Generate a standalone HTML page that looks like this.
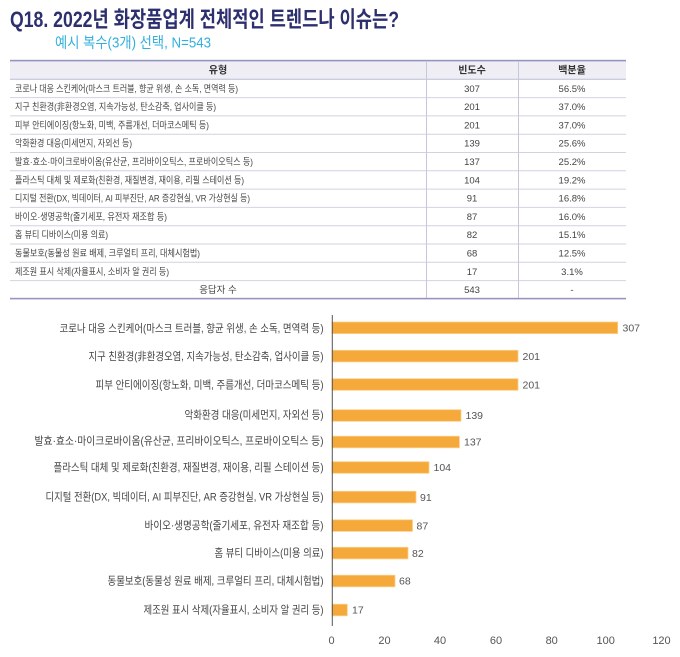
<!DOCTYPE html>
<html><head><meta charset="utf-8">
<style>
html,body{margin:0;padding:0;background:#fff;}
svg{display:block;}
text{font-family:"Liberation Sans","Noto Sans CJK KR",sans-serif;}
</style></head>
<body>
<svg width="680" height="657" viewBox="0 0 680 657" xmlns="http://www.w3.org/2000/svg">
<rect width="680" height="657" fill="#fff"/>
<!-- Title -->
<text x="10" y="27" font-size="22" font-weight="bold" fill="#2d2f6e" textLength="389" lengthAdjust="spacingAndGlyphs">Q18. 2022년 화장품업계 전체적인 트렌드나 이슈는?</text>
<text x="55" y="47.5" font-size="15" fill="#31b0dc" textLength="156" lengthAdjust="spacingAndGlyphs">예시 복수(3개) 선택, N=543</text>

<!-- Table -->
<rect x="10" y="61" width="616" height="18" fill="#eeeef4"/>
<rect x="10" y="59.8" width="616" height="1.6" fill="#9795bd"/>
<g stroke="#d2d2e2" stroke-width="1">
<line x1="10" y1="79.3" x2="626" y2="79.3" stroke="#bcbbd6"/>
<line x1="10" y1="97.6" x2="626" y2="97.6"/>
<line x1="10" y1="115.9" x2="626" y2="115.9"/>
<line x1="10" y1="134.2" x2="626" y2="134.2"/>
<line x1="10" y1="152.5" x2="626" y2="152.5"/>
<line x1="10" y1="170.8" x2="626" y2="170.8"/>
<line x1="10" y1="189.1" x2="626" y2="189.1"/>
<line x1="10" y1="207.4" x2="626" y2="207.4"/>
<line x1="10" y1="225.7" x2="626" y2="225.7"/>
<line x1="10" y1="244" x2="626" y2="244"/>
<line x1="10" y1="262.3" x2="626" y2="262.3"/>
<line x1="10" y1="280.6" x2="626" y2="280.6"/>
<line x1="426.5" y1="61" x2="426.5" y2="298" stroke="#c6c6dc"/>
<line x1="518.5" y1="61" x2="518.5" y2="298" stroke="#c6c6dc"/>
</g>
<rect x="10" y="297.8" width="616" height="1.6" fill="#9795bd"/>

<g font-size="10" fill="#333" text-anchor="middle">
<text x="218" y="73.5" font-weight="bold">유형</text>
<text x="472" y="73.5" font-weight="bold">빈도수</text>
<text x="572" y="73.5" font-weight="bold">백분율</text>
</g>
<g font-size="9.5" fill="#444">
<text x="15" y="91.8" textLength="223" lengthAdjust="spacingAndGlyphs">코로나 대응 스킨케어(마스크 트러블, 향균 위생, 손 소독, 면역력 등)</text>
<text x="15" y="110.1" textLength="201" lengthAdjust="spacingAndGlyphs">지구 친환경(非환경오염, 지속가능성, 탄소감축, 업사이클 등)</text>
<text x="15" y="128.4" textLength="194" lengthAdjust="spacingAndGlyphs">피부 안티에이징(항노화, 미백, 주름개선, 더마코스메틱 등)</text>
<text x="15" y="146.7" textLength="117" lengthAdjust="spacingAndGlyphs">악화환경 대응(미세먼지, 자외선 등)</text>
<text x="15" y="165" textLength="238" lengthAdjust="spacingAndGlyphs">발효·효소·마이크로바이옴(유산균, 프리바이오틱스, 프로바이오틱스 등)</text>
<text x="15" y="183.3" textLength="229" lengthAdjust="spacingAndGlyphs">플라스틱 대체 및 제로화(친환경, 재질변경, 재이용, 리필 스테이션 등)</text>
<text x="15" y="201.6" textLength="235" lengthAdjust="spacingAndGlyphs">디지털 전환(DX, 빅데이터, AI 피부진단, AR 증강현실, VR 가상현실 등)</text>
<text x="15" y="219.9" textLength="152" lengthAdjust="spacingAndGlyphs">바이오·생명공학(줄기세포, 유전자 재조합 등)</text>
<text x="15" y="238.2" textLength="93" lengthAdjust="spacingAndGlyphs">홈 뷰티 디바이스(미용 의료)</text>
<text x="15" y="256.5" textLength="185" lengthAdjust="spacingAndGlyphs">동물보호(동물성 원료 배제, 크루얼티 프리, 대체시험법)</text>
<text x="15" y="274.8" textLength="154" lengthAdjust="spacingAndGlyphs">제조원 표시 삭제(자율표시, 소비자 알 권리 등)</text>
</g>
<g font-size="9.5" fill="#444" text-anchor="middle">
<text x="218" y="293.1">응답자 수</text>
<text x="472" y="91.8">307</text><text x="572" y="91.8">56.5%</text>
<text x="472" y="110.1">201</text><text x="572" y="110.1">37.0%</text>
<text x="472" y="128.4">201</text><text x="572" y="128.4">37.0%</text>
<text x="472" y="146.7">139</text><text x="572" y="146.7">25.6%</text>
<text x="472" y="165">137</text><text x="572" y="165">25.2%</text>
<text x="472" y="183.3">104</text><text x="572" y="183.3">19.2%</text>
<text x="472" y="201.6">91</text><text x="572" y="201.6">16.8%</text>
<text x="472" y="219.9">87</text><text x="572" y="219.9">16.0%</text>
<text x="472" y="238.2">82</text><text x="572" y="238.2">15.1%</text>
<text x="472" y="256.5">68</text><text x="572" y="256.5">12.5%</text>
<text x="472" y="274.8">17</text><text x="572" y="274.8">3.1%</text>
<text x="472" y="293.1">543</text><text x="572" y="293.1">-</text>
</g>

<!-- Chart labels -->
<g font-size="11" fill="#444" text-anchor="end">
<text x="323.5" y="332" textLength="264" lengthAdjust="spacingAndGlyphs">코로나 대응 스킨케어(마스크 트러블, 향균 위생, 손 소독, 면역력 등)</text>
<text x="323.5" y="360" textLength="235" lengthAdjust="spacingAndGlyphs">지구 친환경(非환경오염, 지속가능성, 탄소감축, 업사이클 등)</text>
<text x="323.5" y="388.5" textLength="228" lengthAdjust="spacingAndGlyphs">피부 안티에이징(항노화, 미백, 주름개선, 더마코스메틱 등)</text>
<text x="323.5" y="418.5" textLength="139" lengthAdjust="spacingAndGlyphs">악화환경 대응(미세먼지, 자외선 등)</text>
<text x="323.5" y="444.5" textLength="289" lengthAdjust="spacingAndGlyphs">발효·효소·마이크로바이옴(유산균, 프리바이오틱스, 프로바이오틱스 등)</text>
<text x="323.5" y="471" textLength="270" lengthAdjust="spacingAndGlyphs">플라스틱 대체 및 제로화(친환경, 재질변경, 재이용, 리필 스테이션 등)</text>
<text x="323.5" y="500.5" textLength="278" lengthAdjust="spacingAndGlyphs">디지털 전환(DX, 빅데이터, AI 피부진단, AR 증강현실, VR 가상현실 등)</text>
<text x="323.5" y="529" textLength="179" lengthAdjust="spacingAndGlyphs">바이오·생명공학(줄기세포, 유전자 재조합 등)</text>
<text x="323.5" y="556.5" textLength="109" lengthAdjust="spacingAndGlyphs">홈 뷰티 디바이스(미용 의료)</text>
<text x="323.5" y="584.5" textLength="216" lengthAdjust="spacingAndGlyphs">동물보호(동물성 원료 배제, 크루얼티 프리, 대체시험법)</text>
<text x="323.5" y="613.5" textLength="180" lengthAdjust="spacingAndGlyphs">제조원 표시 삭제(자율표시, 소비자 알 권리 등)</text>
</g>

<!-- Bars -->
<g fill="#f6a93b" stroke="#fbcf8a" stroke-width="0.8">
<rect x="332" y="322" width="285.7" height="11.6"/>
<rect x="332" y="350.3" width="186" height="11.6"/>
<rect x="332" y="378.7" width="186" height="11.6"/>
<rect x="332" y="409.7" width="129" height="11.6"/>
<rect x="332" y="436.2" width="127.4" height="11.6"/>
<rect x="332" y="461.7" width="97" height="11.6"/>
<rect x="332" y="491.3" width="84" height="11.6"/>
<rect x="332" y="519.8" width="80.5" height="11.6"/>
<rect x="332" y="547.3" width="76" height="11.6"/>
<rect x="332" y="575.2" width="63" height="11.6"/>
<rect x="332" y="604.2" width="15.3" height="11.6"/>
</g>
<line x1="332.3" y1="315" x2="332.3" y2="626" stroke="#555" stroke-width="1"/>

<!-- Value labels -->
<g font-size="10.5" fill="#555">
<text x="622.5" y="331.5">307</text>
<text x="522.5" y="359.8">201</text>
<text x="522.5" y="388.3">201</text>
<text x="465.5" y="419.2">139</text>
<text x="464" y="445.7">137</text>
<text x="433.5" y="471.2">104</text>
<text x="420" y="500.8">91</text>
<text x="416.5" y="529.3">87</text>
<text x="412" y="556.8">82</text>
<text x="399" y="584.7">68</text>
<text x="352" y="613.7">17</text>
</g>

<!-- X ticks -->
<g font-size="11" fill="#555" text-anchor="middle">
<text x="331.5" y="644">0</text>
<text x="384.5" y="644">20</text>
<text x="440" y="644">40</text>
<text x="496" y="644">60</text>
<text x="551.7" y="644">80</text>
<text x="605.7" y="644">100</text>
<text x="661.5" y="644">120</text>
</g>
</svg>
</body></html>
